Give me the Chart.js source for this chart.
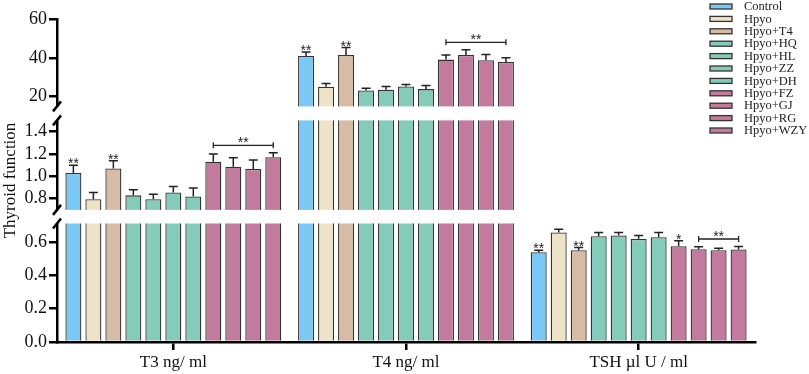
<!DOCTYPE html>
<html>
<head>
<meta charset="utf-8">
<script src="https://cdn.jsdelivr.net/npm/chart.js@4.4.0/dist/chart.umd.min.js"></script>
<style>
    html, body { margin: 0; padding: 0; background: #fff; }
</style>
</head>
<body>
<canvas id="thyroidChart" width="809" height="374"></canvas>
<script>
const groups = ['T3 ng/ ml', 'T4 ng/ ml', 'TSH µl U / ml'];
const treatments = ['Control', 'Hpyo', 'Hpyo+T4', 'Hpyo+HQ', 'Hpyo+HL', 'Hpyo+ZZ',
                    'Hpyo+DH', 'Hpyo+FZ', 'Hpyo+GJ', 'Hpyo+RG', 'Hpyo+WZY'];
const colors = ['#7cc8f4', '#ede3c6', '#d8bba5', '#85cbb9', '#85cbb9', '#85cbb9',
                '#85cbb9', '#c27b9c', '#c27b9c', '#c27b9c', '#c27b9c'];

const t3Means = [1.03, 0.795, 1.07, 0.83, 0.795, 0.855, 0.82, 1.13, 1.085, 1.065, 1.17];
const t3Err   = [0.07, 0.06, 0.07, 0.05, 0.045, 0.055, 0.075, 0.07, 0.08, 0.08, 0.04];
const t4Means = [41.0, 25.1, 41.5, 23.2, 23.6, 25.3, 23.9, 39.1, 41.5, 38.8, 37.9];
const t4Err   = [2.0, 1.7, 3.8, 1.2, 1.7, 1.0, 1.9, 2.4, 2.6, 2.9, 2.1];
const tshMeans = [0.538, 0.656, 0.55, 0.634, 0.638, 0.618, 0.628, 0.574, 0.556, 0.55, 0.554];
const tshErr   = [0.012, 0.02, 0.016, 0.022, 0.018, 0.02, 0.028, 0.032, 0.014, 0.012, 0.018];

// significance marks per bar, and brackets over groups of bars
const t3Stars  = ['**', '', '**', '', '', '', '', '', '', '', ''];
const t4Stars  = ['**', '', '**', '', '', '', '', '', '', '', ''];
const tshStars = ['**', '', '**', '', '', '', '', '*', '', '', ''];
const brackets = [
    { group: 0, from: 7, to: 10, text: '**' },
    { group: 1, from: 7, to: 10, text: '**' },
    { group: 2, from: 8, to: 10, text: '**' }
];

const yTicks = [0, 0.2, 0.4, 0.6, 0.8, 1.0, 1.2, 1.4, 20, 40, 60];

// broken y axis, bottom to top. size/gap are relative heights
const axisPieces = [
    { min: 0, max: 0.71, size: 118.4 },
    { gap: 13.6 },
    { min: 0.7, max: 1.5, size: 89.4 },
    { gap: 14 },
    { min: 15, max: 60, size: 87.3 }
];

class BrokenScale extends Chart.LinearScale {
    determineDataLimits() {
        this.min = axisPieces[0].min;
        this.max = axisPieces[axisPieces.length - 1].max;
    }
    buildTicks() {
        return yTicks.map(v => ({ value: v }));
    }
    pieces() {
        const total = axisPieces.reduce((s, p) => s + (p.size || p.gap), 0);
        const k = (this.bottom - this.top) / total;
        let y = this.bottom;
        return axisPieces.map(p => {
            const h = (p.size || p.gap) * k;
            const out = Object.assign({ y0: y, y1: y - h }, p);
            y -= h;
            return out;
        });
    }
    getPixelForValue(value) {
        const segs = this.pieces().filter(p => p.size);
        for (let i = segs.length - 1; i >= 0; i--) {
            const p = segs[i];
            if (value >= p.min || i === 0) {
                const v = Math.max(Math.min(value, p.max), p.min);
                return p.y0 - (v - p.min) / (p.max - p.min) * (p.y0 - p.y1);
            }
        }
    }
    getValueForPixel(pixel) {
        const segs = this.pieces().filter(p => p.size);
        for (const p of segs) {
            if (pixel <= p.y0 && pixel >= p.y1) {
                return p.min + (p.y0 - pixel) / (p.y0 - p.y1) * (p.max - p.min);
            }
        }
        return null;
    }
}
BrokenScale.id = 'broken';
BrokenScale.defaults = {};
Chart.register(BrokenScale);

const serif = 'Liberation Serif';

const datasets = treatments.map((name, i) => ({
    label: name,
    data: [t3Means[i], t4Means[i], tshMeans[i]],
    errors: [t3Err[i], t4Err[i], tshErr[i]],
    stars: [t3Stars[i], t4Stars[i], tshStars[i]],
    backgroundColor: colors[i],
    borderColor: '#333',
    borderWidth: 1.3,
    categoryPercentage: 0.945,
    barPercentage: 0.8
}));

const decorations = {
    id: 'decorations',
    afterDatasetsDraw(chart) {
        const { ctx, chartArea } = chart;
        const y = chart.scales.y;
        ctx.save();

        // white breaks and the slashes on the axis
        y.pieces().filter(p => p.gap).forEach(p => {
            ctx.fillStyle = '#fff';
            ctx.fillRect(chartArea.left - 5, p.y1, chartArea.right - chartArea.left + 5, p.y0 - p.y1);
            ctx.strokeStyle = '#000';
            ctx.lineWidth = 2.5;
            [p.y0, p.y1].forEach(yy => {
                ctx.beginPath();
                ctx.moveTo(chartArea.left - 4, yy + 5);
                ctx.lineTo(chartArea.left + 4, yy - 5);
                ctx.stroke();
            });
        });

        // error bars and stars
        ctx.strokeStyle = '#222';
        ctx.fillStyle = '#222';
        ctx.lineWidth = 1.5;
        ctx.font = '14px "Liberation Sans"';
        ctx.textAlign = 'center';
        ctx.textBaseline = 'alphabetic';
        chart.data.datasets.forEach((ds, i) => {
            chart.getDatasetMeta(i).data.forEach((bar, j) => {
                const top = y.getPixelForValue(ds.data[j] + ds.errors[j]);
                const half = bar.width * 0.28;
                ctx.beginPath();
                ctx.moveTo(bar.x, bar.y);
                ctx.lineTo(bar.x, top);
                ctx.moveTo(bar.x - half, top);
                ctx.lineTo(bar.x + half, top);
                ctx.stroke();
                if (ds.stars[j]) ctx.fillText(ds.stars[j], bar.x, top + 3);
            });
        });

        ctx.lineWidth = 1.3;
        brackets.forEach(b => {
            let tops = [], xs = [];
            for (let k = b.from; k <= b.to; k++) {
                const ds = chart.data.datasets[k];
                const bar = chart.getDatasetMeta(k).data[b.group];
                tops.push(y.getPixelForValue(ds.data[b.group] + ds.errors[b.group]));
                xs.push(bar.x);
            }
            const yy = Math.min(...tops) - 7.5;
            const x0 = xs[0], x1 = xs[xs.length - 1];
            ctx.beginPath();
            ctx.moveTo(x0, yy); ctx.lineTo(x1, yy);
            ctx.moveTo(x0, yy - 3); ctx.lineTo(x0, yy + 3);
            ctx.moveTo(x1, yy - 3); ctx.lineTo(x1, yy + 3);
            ctx.stroke();
            ctx.fillText(b.text, (x0 + x1) / 2, yy + 2);
        });
        ctx.restore();
    },
    afterDraw(chart) {
        const ctx = chart.ctx;
        ctx.save();
        ctx.font = '12.5px ' + serif;
        ctx.textBaseline = 'middle';
        ctx.textAlign = 'left';
        ctx.lineWidth = 1.3;
        chart.data.datasets.forEach((ds, i) => {
            const yy = 6.5 + i * 12.4;
            ctx.fillStyle = ds.backgroundColor;
            ctx.strokeStyle = '#333';
            ctx.fillRect(710, yy - 2.5, 22, 5);
            ctx.strokeRect(710, yy - 2.5, 22, 5);
            ctx.fillStyle = '#222';
            ctx.fillText(ds.label, 744, yy + 0.5);
        });
        ctx.restore();
    }
};

new Chart(document.getElementById('thyroidChart'), {
    type: 'bar',
    data: { labels: groups, datasets: datasets },
    options: {
        responsive: false,
        animation: false,
        layout: { padding: { top: 19, right: 54, left: 0, bottom: 0 } },
        plugins: {
            legend: { display: false },
            tooltip: { enabled: false }
        },
        scales: {
            x: {
                type: 'category',
                offset: true,
                grid: { offset: false, drawOnChartArea: false, tickLength: 8, lineWidth: 2.5, color: '#000' },
                border: { color: '#000', width: 2.5, z: 1 },
                ticks: { font: { family: serif, size: 17 }, color: '#111', padding: 2 },
                afterFit: s => { s.height = 32; }
            },
            y: {
                type: 'broken',
                position: 'left',
                grid: { drawOnChartArea: false, tickLength: 8, lineWidth: 2.5, color: '#000' },
                border: { color: '#000', width: 2.5 },
                ticks: {
                    font: { family: serif, size: 18 },
                    color: '#111',
                    padding: 2,
                    autoSkip: false,
                    callback: v => v >= 10 ? String(v) : v.toFixed(1)
                },
                title: {
                    display: true,
                    text: 'Thyroid function',
                    font: { family: serif, size: 17 },
                    color: '#111',
                    padding: 0
                },
                afterFit: s => { s.width = 57; }
            }
        }
    },
    plugins: [decorations]
});
</script>
</body>
</html>
